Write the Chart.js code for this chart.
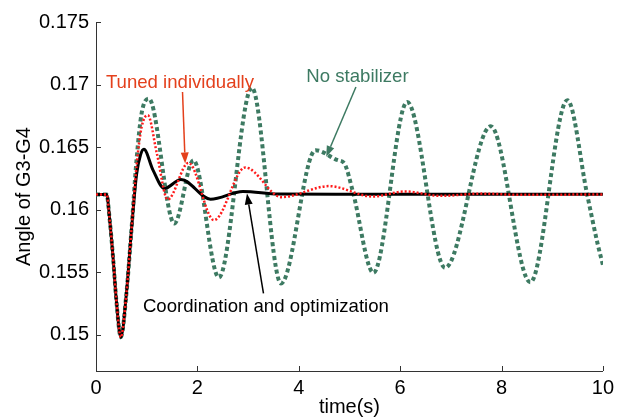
<!DOCTYPE html>
<html><head><meta charset="utf-8">
<script src="https://cdn.jsdelivr.net/npm/chart.js@4/dist/chart.umd.min.js"></script>
<style>html,body{margin:0;padding:0;background:#fff;overflow:hidden}canvas{display:block}</style>
</head><body>
<canvas id="c" width="619" height="419"></canvas>
<script>
// ---- data ----
const coordTime  = [0, 0.21, 0.27, 0.34, 0.40, 0.49, 0.60, 0.70, 0.80, 0.88, 0.945, 1.12, 1.349, 1.675, 2.26, 2.90, 3.60, 5.0, 7.0, 10];
const coordAngle = [0.16121, 0.16121, 0.1592, 0.1560, 0.1528, 0.1498, 0.1533, 0.1584, 0.1628, 0.1644, 0.16483, 0.1632, 0.16169, 0.16241, 0.16084, 0.16145, 0.16124, 0.16122, 0.16122, 0.16122];

const tunedTime  = [0, 0.21, 0.27, 0.34, 0.40, 0.49, 0.60, 0.70, 0.80, 0.90, 1.023, 1.20, 1.414, 1.825, 2.327, 2.945, 3.662, 4.60, 5.45, 6.10, 6.80, 7.60, 8.40, 10];
const tunedAngle = [0.16121, 0.16121, 0.1592, 0.1560, 0.1528, 0.1498, 0.1533, 0.1584, 0.1635, 0.1666, 0.16755, 0.1645, 0.16081, 0.16374, 0.15916, 0.16337, 0.16100, 0.16188, 0.16105, 0.16145, 0.16110, 0.16128, 0.16118, 0.16122];

const noStabTime  = [0, 0.21, 0.27, 0.34, 0.40, 0.49, 0.60, 0.70, 0.80, 0.90, 1.042, 1.545, 1.922, 2.424, 3.075, 3.65, 4.33, 4.77, 4.90, 5.06, 5.474, 6.139, 6.888, 7.787, 8.569, 9.30, 9.69, 9.90, 10];
const noStabAngle = [0.16121, 0.16121, 0.1592, 0.1560, 0.1528, 0.1498, 0.1533, 0.1584, 0.1640, 0.1677, 0.16888, 0.1589, 0.16395, 0.15458, 0.16975, 0.1541, 0.16475, 0.16395, 0.16369, 0.16156, 0.15495, 0.16861, 0.15535, 0.16667, 0.15419, 0.16875, 0.1612, 0.1572, 0.1556];

const xTickValues = [0, 2, 4, 6, 8, 10];
const xTickLabels = ['0', '2', '4', '6', '8', '10'];
const yTickValues = [0.15, 0.155, 0.16, 0.165, 0.17, 0.175];
const yTickLabels = ['0.15', '0.155', '0.16', '0.165', '0.17', '0.175'];

// ---- annotations (text + arrows, in data coordinates) ----
const annotationTexts = ['Tuned individually', 'No stabilizer', 'Coordination and optimization'];
const annotationTextPos = [[0.195, 0.16970], [4.15, 0.17018], [0.925, 0.15184]];
const annotationArrowFrom = [[1.707, 0.16941], [5.128, 0.16981], [3.304, 0.15331]];
const annotationArrowTo   = [[1.759, 0.16369], [4.542, 0.16422], [2.978, 0.16129]];
const annotationColors = ['#e4401c', '#3d7a62', '#000000'];

const FONT = "'Liberation Sans', Arial, sans-serif";
const pts = (t, v) => t.map((x, i) => ({x: x, y: v[i]}));

const inwardTicks = {
  id: 'inwardTicks',
  afterDraw(chart) {
    const {ctx, chartArea: a, scales: {x, y}} = chart;
    ctx.save();
    ctx.strokeStyle = '#333';
    ctx.lineWidth = 1;
    x.ticks.forEach(t => {
      const px = Math.round(x.getPixelForValue(t.value)) + 0.5;
      ctx.beginPath(); ctx.moveTo(px, a.bottom); ctx.lineTo(px, a.bottom - 5); ctx.stroke();
    });
    y.ticks.forEach(t => {
      const py = Math.round(y.getPixelForValue(t.value)) + 0.5;
      ctx.beginPath(); ctx.moveTo(a.left, py); ctx.lineTo(a.left + 5, py); ctx.stroke();
    });
    ctx.restore();
  }
};

const annotationsPlugin = {
  id: 'annotationsPlugin',
  afterDatasetsDraw(chart) {
    const {ctx, scales: {x, y}} = chart;
    ctx.save();
    ctx.font = '18.6px ' + FONT;
    ctx.textBaseline = 'alphabetic';
    ctx.textAlign = 'left';
    annotationTexts.forEach((txt, i) => {
      const c = annotationColors[i];
      ctx.fillStyle = c;
      ctx.fillText(txt, x.getPixelForValue(annotationTextPos[i][0]), y.getPixelForValue(annotationTextPos[i][1]));
      const x0 = x.getPixelForValue(annotationArrowFrom[i][0]), y0 = y.getPixelForValue(annotationArrowFrom[i][1]);
      const x1 = x.getPixelForValue(annotationArrowTo[i][0]), y1 = y.getPixelForValue(annotationArrowTo[i][1]);
      const ang = Math.atan2(y1 - y0, x1 - x0);
      const hl = 11, hw = 4;
      const bx = x1 - hl * Math.cos(ang), by = y1 - hl * Math.sin(ang);
      ctx.strokeStyle = c; ctx.lineWidth = 1.5;
      ctx.beginPath(); ctx.moveTo(x0, y0); ctx.lineTo(bx, by); ctx.stroke();
      ctx.beginPath();
      ctx.moveTo(x1, y1);
      ctx.lineTo(bx + hw * Math.sin(ang), by - hw * Math.cos(ang));
      ctx.lineTo(bx - hw * Math.sin(ang), by + hw * Math.cos(ang));
      ctx.closePath(); ctx.fill();
    });
    ctx.restore();
  }
};

new Chart(document.getElementById('c'), {
  type: 'line',
  data: {
    datasets: [
      {label: 'Tuned individually', data: pts(tunedTime, tunedAngle), borderColor: '#ff1a1a', borderWidth: 2.5, borderDash: [2, 2], order: 0},
      {label: 'Coordination and optimization', data: pts(coordTime, coordAngle), borderColor: '#000000', borderWidth: 3, order: 1},
      {label: 'No stabilizer', data: pts(noStabTime, noStabAngle), borderColor: '#3d7a62', borderWidth: 4, borderDash: [4, 3], order: 2}
    ]
  },
  options: {
    responsive: false,
    animation: false,
    devicePixelRatio: 1,
    layout: {padding: {left: 0, top: 22, right: 11, bottom: 0}},
    elements: {point: {radius: 0}, line: {cubicInterpolationMode: 'monotone', fill: false, borderCapStyle: 'butt'}},
    plugins: {legend: {display: false}, tooltip: {enabled: false}},
    scales: {
      x: {
        type: 'linear', min: 0, max: 10,
        afterBuildTicks: s => { s.ticks = xTickValues.map(v => ({value: v})); },
        afterFit: s => { s.height = 48; },
        ticks: {callback: (v) => xTickLabels[xTickValues.indexOf(v)], color: '#000', font: {family: FONT, size: 20}, padding: 5, maxRotation: 0, autoSkip: false},
        grid: {display: true, drawOnChartArea: false, drawTicks: false},
        border: {display: true, color: '#333', width: 1},
        title: {display: true, text: 'time(s)', color: '#000', font: {family: FONT, size: 20}, padding: {top: 0, bottom: 0}}
      },
      y: {
        type: 'linear', min: 0.1471, max: 0.175,
        afterBuildTicks: s => { s.ticks = yTickValues.map(v => ({value: v})); },
        afterFit: s => { s.width = 96; },
        ticks: {callback: (v) => { const i = yTickValues.findIndex(t => Math.abs(t - v) < 1e-9); return i >= 0 ? yTickLabels[i] : ''; }, color: '#000', font: {family: FONT, size: 20}, padding: 7, autoSkip: false},
        grid: {display: true, drawOnChartArea: false, drawTicks: false},
        border: {display: true, color: '#333', width: 1},
        title: {display: true, text: 'Angle of G3-G4', color: '#000', font: {family: FONT, size: 20}, padding: {top: 12, bottom: 0}}
      }
    }
  },
  plugins: [inwardTicks, annotationsPlugin]
});
</script>
</body></html>
